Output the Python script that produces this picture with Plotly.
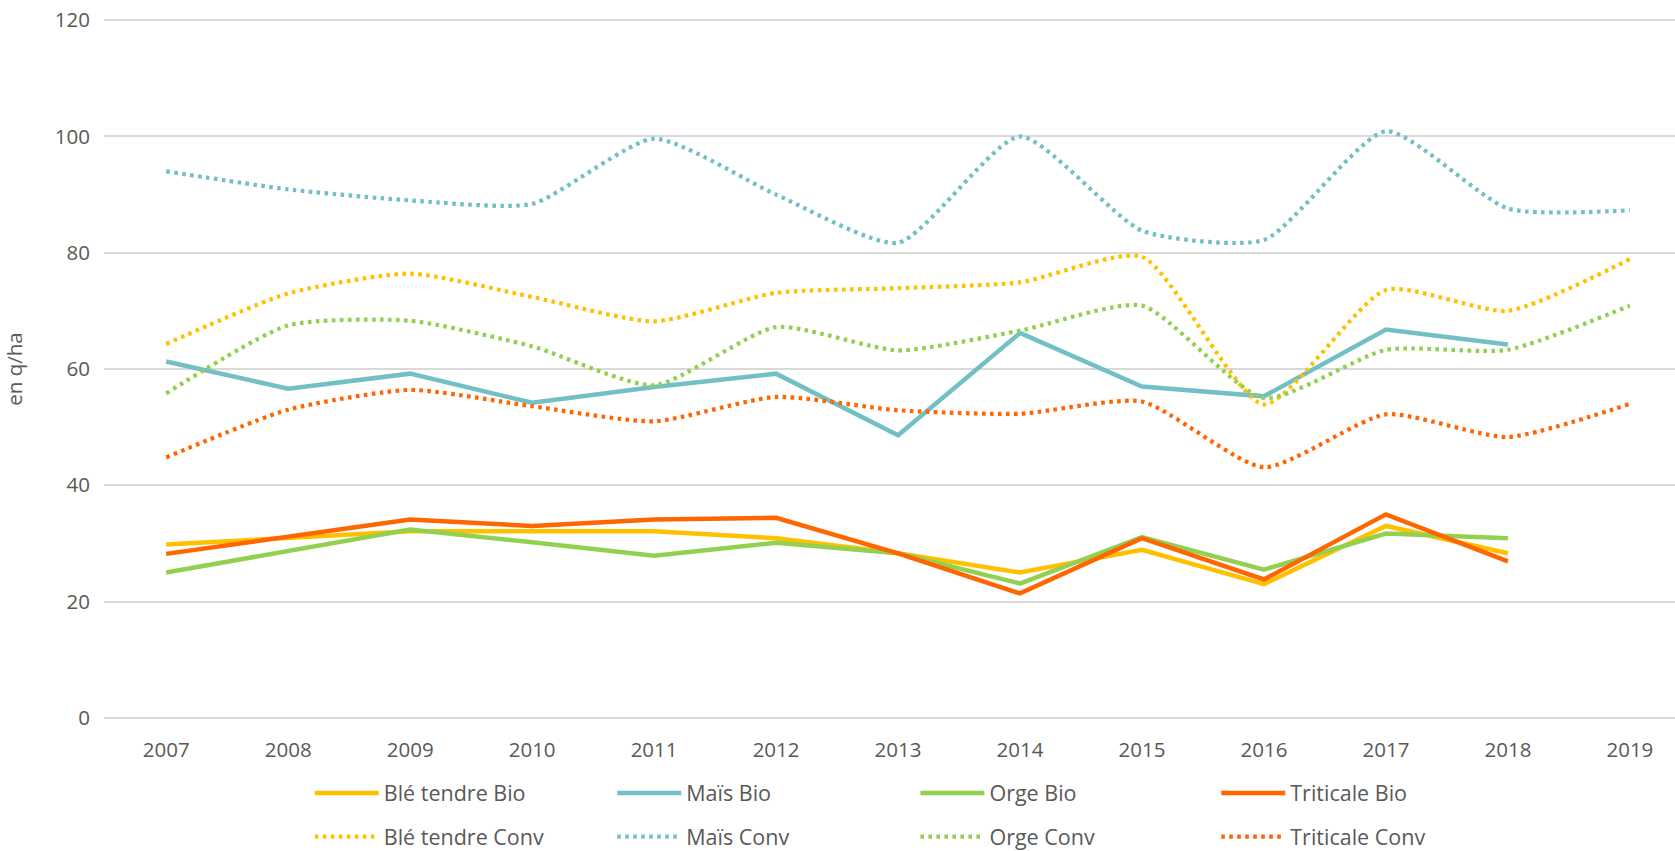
import plotly.graph_objects as go

years = [2007, 2008, 2009, 2010, 2011, 2012, 2013, 2014, 2015, 2016, 2017, 2018, 2019]

ble_bio = [29.8, 30.9, 32.1, 32.1, 32.1, 30.9, 28.3, 25.0, 28.9, 23.0, 33.0, 28.3, None]
mais_bio = [61.3, 56.6, 59.2, 54.2, 56.9, 59.2, 48.6, 66.2, 57.0, 55.3, 66.8, 64.2, None]
orge_bio = [25.0, 28.7, 32.4, 30.2, 27.9, 30.1, 28.3, 23.1, 31.1, 25.5, 31.7, 30.9, None]
triticale_bio = [28.2, 31.2, 34.1, 33.0, 34.1, 34.4, 28.3, 21.4, 30.9, 23.8, 35.0, 26.9, None]

ble_conv = [64.3, 73.0, 76.4, 72.4, 68.2, 73.1, 73.9, 74.9, 79.3, 53.9, 73.6, 70.0, 78.9]
mais_conv = [94.0, 90.9, 89.0, 88.4, 99.6, 90.0, 81.7, 100.0, 83.8, 82.2, 100.9, 87.6, 87.3]
orge_conv = [55.8, 67.5, 68.3, 63.9, 57.2, 67.2, 63.2, 66.6, 70.9, 55.0, 63.3, 63.3, 70.9]
triticale_conv = [44.8, 53.0, 56.4, 53.6, 51.0, 55.2, 52.9, 52.3, 54.4, 43.1, 52.2, 48.3, 54.0]

names_bio = ["Blé tendre Bio", "Maïs Bio", "Orge Bio", "Triticale Bio"]
names_conv = ["Blé tendre Conv", "Maïs Conv", "Orge Conv", "Triticale Conv"]
colors = ["#FFC000", "#72C0C6", "#92D050", "#FF6600"]

font_family = "Open Sans, Liberation Sans, sans-serif"
text_color = "#595959"

# legend layout (paper coordinates)
legend_cols = [0.131, 0.3235, 0.5165, 0.708]
legend_rows = [-0.1057, -0.1682]

fig = go.Figure()

legend_layout = {}
k = 0
for row, (names, series_list) in enumerate([
    (names_bio, [ble_bio, mais_bio, orge_bio, triticale_bio]),
    (names_conv, [ble_conv, mais_conv, orge_conv, triticale_conv]),
]):
    for col, (name, vals, color) in enumerate(zip(names, series_list, colors)):
        k += 1
        lname = "legend" if k == 1 else f"legend{k}"
        if row == 0:
            line = dict(color=color, width=4.5)
        else:
            line = dict(color=color, width=4.2, dash="3.6px,4.4px", shape="spline", smoothing=0.6)
        fig.add_trace(go.Scatter(
            x=years, y=vals, name=name, mode="lines", line=line, legend=lname,
            showlegend=True,
        ))
        legend_layout[lname] = dict(
            orientation="h", x=legend_cols[col], xanchor="left",
            y=legend_rows[row], yanchor="middle", itemwidth=64,
            font=dict(size=21.5, color=text_color, family=font_family),
            bgcolor="rgba(0,0,0,0)",
        )

fig.update_layout(
    width=1675, height=851,
    showlegend=True,
    margin=dict(l=104, r=0, t=19, b=132, autoexpand=False),
    paper_bgcolor="white", plot_bgcolor="white",
    font=dict(family=font_family, size=20.5, color=text_color),
    xaxis=dict(
        range=[2006.49, 2019.37], tickvals=years, ticktext=[str(y) for y in years],
        showgrid=False, zeroline=False, showline=False, ticks="",
        ticklabelstandoff=16,
        tickfont=dict(size=20.5, color=text_color),
    ),
    yaxis=dict(
        range=[-0.2, 120.2], tickvals=[0, 20, 40, 60, 80, 100, 120],
        showgrid=True, gridcolor="#D9D9D9", gridwidth=1.5,
        zeroline=False, showline=False, ticks="",
        ticklabelstandoff=13,
        tickfont=dict(size=20.5, color=text_color),
        title=dict(text="en q/ha", font=dict(size=20.5, color=text_color), standoff=28),
    ),
    **legend_layout,
)

fig.write_html(
    "out.html",
    config={"displayModeBar": False},
    post_script="document.body.style.margin='0';document.body.style.overflow='hidden';",
)
